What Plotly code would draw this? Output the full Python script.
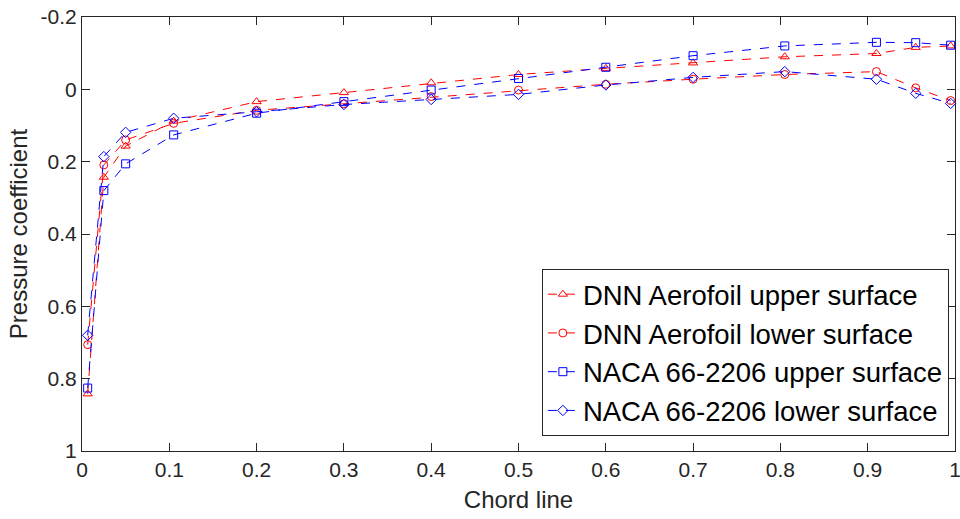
import plotly.graph_objects as go

chord = [0.0065, 0.025, 0.05, 0.105, 0.2, 0.3, 0.4, 0.5, 0.6, 0.7, 0.805, 0.91, 0.955, 0.995]
dnn_upper = [0.842, 0.243, 0.157, 0.088, 0.034, 0.009, -0.018, -0.041, -0.058, -0.073, -0.090, -0.099, -0.116, -0.120]
dnn_lower = [0.706, 0.209, 0.140, 0.094, 0.058, 0.040, 0.020, 0.002, -0.014, -0.028, -0.041, -0.049, -0.004, 0.031]
naca_upper = [0.826, 0.280, 0.206, 0.126, 0.066, 0.034, 0.002, -0.030, -0.061, -0.093, -0.120, -0.130, -0.129, -0.122]
naca_lower = [0.680, 0.186, 0.119, 0.080, 0.062, 0.042, 0.028, 0.014, -0.012, -0.033, -0.049, -0.028, 0.011, 0.039]

x_ticks = [0, 0.1, 0.2, 0.3, 0.4, 0.5, 0.6, 0.7, 0.8, 0.9, 1]
x_labels = ["0", "0.1", "0.2", "0.3", "0.4", "0.5", "0.6", "0.7", "0.8", "0.9", "1"]
y_ticks = [-0.2, 0, 0.2, 0.4, 0.6, 0.8, 1]
y_labels = ["-0.2", "0", "0.2", "0.4", "0.6", "0.8", "1"]

series = [
    ("DNN Aerofoil upper surface", dnn_upper, "#ff0000", "triangle-up-open"),
    ("DNN Aerofoil lower surface", dnn_lower, "#ff0000", "circle-open"),
    ("NACA 66-2206 upper surface", naca_upper, "#0000ff", "square-open"),
    ("NACA 66-2206 lower surface", naca_lower, "#0000ff", "diamond-open"),
]

fig = go.Figure()
for name, vals, col, sym in series:
    fig.add_trace(go.Scatter(
        x=chord, y=vals, name=name, mode="lines+markers",
        line=dict(color=col, width=1, dash="dash"),
        marker=dict(symbol=sym, size=8, color=col, line=dict(color=col, width=1)),
        cliponaxis=False,
    ))

axcol = "#262626"
fig.update_layout(
    width=960, height=519,
    margin=dict(l=82, r=5, t=17, b=68, autoexpand=False),
    paper_bgcolor="white", plot_bgcolor="white",
    font=dict(family="Liberation Sans, Arial, sans-serif", color=axcol),
    xaxis=dict(
        range=[0, 1], tickvals=x_ticks, ticktext=x_labels,
        ticks="inside", ticklen=8, tickcolor=axcol, tickwidth=1,
        showline=True, linecolor=axcol, linewidth=1, mirror="ticks",
        showgrid=False, zeroline=False, automargin=False,
        ticklabeloverflow="allow",
        tickfont=dict(size=21, color=axcol),
        title=dict(text="Chord line", font=dict(size=24, color=axcol), standoff=10),
    ),
    yaxis=dict(
        range=[1, -0.2], tickvals=y_ticks, ticktext=y_labels,
        ticks="inside", ticklen=8, tickcolor=axcol, tickwidth=1,
        showline=True, linecolor=axcol, linewidth=1, mirror="ticks",
        showgrid=False, zeroline=False, automargin=False,
        ticklabeloverflow="allow",
        tickfont=dict(size=21, color=axcol),
        title=dict(text="Pressure coefficient", font=dict(size=24, color=axcol), standoff=6),
    ),
    legend=dict(
        x=0.993, y=0.035, xanchor="right", yanchor="bottom",
        bgcolor="white", bordercolor=axcol, borderwidth=1,
        font=dict(size=27.5, color="black"),
        tracegroupgap=0, itemwidth=30,
    ),
)

fig.write_html("out.html", config={"displayModeBar": False},
               post_script="document.body.style.margin='0';document.body.style.padding='0';")
